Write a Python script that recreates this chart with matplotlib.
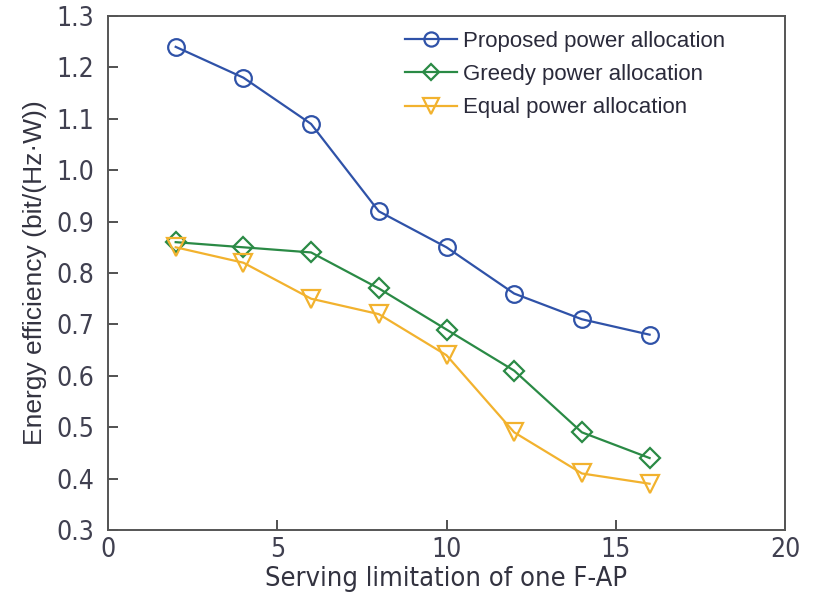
import matplotlib
matplotlib.use("Agg")
import matplotlib.pyplot as plt
from matplotlib import font_manager

x = [2, 4, 6, 8, 10, 12, 14, 16]
proposed = [1.24, 1.18, 1.09, 0.92, 0.85, 0.76, 0.71, 0.68]
greedy = [0.86, 0.85, 0.84, 0.77, 0.69, 0.61, 0.49, 0.44]
equal = [0.85, 0.82, 0.75, 0.72, 0.64, 0.49, 0.41, 0.39]
labels = ["Proposed power allocation", "Greedy power allocation", "Equal power allocation"]
xticks = [0, 5, 10, 15, 20]
yticks = [0.3, 0.4, 0.5, 0.6, 0.7, 0.8, 0.9, 1.0, 1.1, 1.2, 1.3]

# pick a condensed font if available
fl = font_manager.fontManager.ttflist
narrow_family, narrow_stretch = "Liberation Sans", "normal"
for f in fl:
    if "Narrow" in f.name and "Liberation" in f.name:
        narrow_family, narrow_stretch = f.name, "normal"
        break
else:
    for f in fl:
        if f.name == "DejaVu Sans" and "Condensed" in f.fname:
            narrow_family, narrow_stretch = "DejaVu Sans", "condensed"
            break

fig = plt.figure(figsize=(8.13, 6.0), dpi=100)
ax = fig.add_axes([108/813, 1-530/600, (785-108)/813, (530-16)/600])

c_blue = "#2f52a8"
c_green = "#2a8a45"
c_orange = "#f2b22e"
ax.plot(x, proposed, color=c_blue, lw=1.6, marker="o", ms=12, mfc="none", mew=1.6, label=labels[0])
ax.plot(x, greedy, color=c_green, lw=1.6, marker="D", ms=10, mfc="none", mew=1.6, label=labels[1])
ax.plot(x, equal, color=c_orange, lw=1.6, marker="v", ms=13, mfc="none", mew=1.6, label=labels[2])

ax.set_xlim(0, 20)
ax.set_ylim(0.3, 1.3)
ax.set_xticks(xticks)
ax.set_yticks(yticks)
ax.set_yticklabels([f"{v:.1f}" for v in yticks])
ax.tick_params(direction="in", length=7, width=1.2, labelsize=19, colors="#333333",
               top=False, right=False)
ax.tick_params(axis="y", pad=10)
ax.tick_params(axis="x", pad=5)
for lab in ax.get_xticklabels() + ax.get_yticklabels():
    lab.set_family(narrow_family)
    lab.set_stretch(narrow_stretch)
    lab.set_color("#404050")
for s in ax.spines.values():
    s.set_color("#555555")
    s.set_linewidth(1.4)

ax.set_xlabel("Serving limitation of one F-AP", fontsize=19.5, family=narrow_family,
              stretch=narrow_stretch, color="#333340", labelpad=2)
ax.set_ylabel("Energy efficiency (bit/(Hz\u00b7W))", fontsize=19, family="Liberation Sans",
              color="#333340", labelpad=7)

leg = ax.legend(loc="upper left", bbox_to_anchor=((403-108)/677 - 0.01, 1 - (22-16)/514), frameon=False,
                prop={"family": "Liberation Sans", "size": 16}, handlelength=2.35,
                labelspacing=0.55, handletextpad=0.25, borderaxespad=0, markerscale=0.85)
for t in leg.get_texts():
    t.set_color("#2a2a3a")

fig.savefig("out.png", dpi=100)
